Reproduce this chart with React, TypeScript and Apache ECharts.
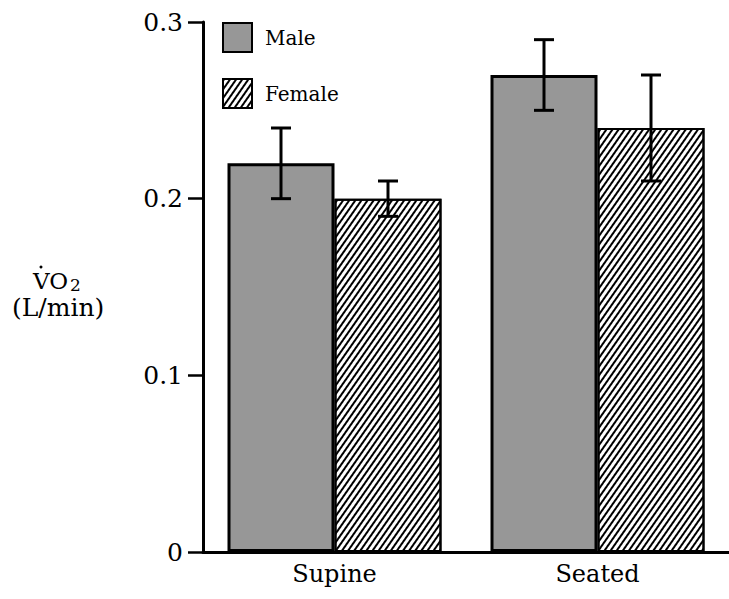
import React, { useEffect, useRef } from "react";
import * as echarts from "echarts";

const categories = ["Supine", "Seated"];
const maleMeans = [0.22, 0.27];
const maleErrors = [0.02, 0.02];
const femaleMeans = [0.2, 0.24];
const femaleErrors = [0.01, 0.03];
const yTicks = [0, 0.1, 0.2, 0.3];

const FONT = "DejaVu Serif";
const BAR_W = 107;

function errData(means: number[], errs: number[]) {
  return means.map((m, i) => [i, m - errs[i], m + errs[i]]);
}

function makeErrSeries(name: string, means: number[], errs: number[], offset: number) {
  return {
    type: "custom",
    name,
    z: 10,
    silent: true,
    data: errData(means, errs),
    encode: { x: 0, y: [1, 2] },
    renderItem: (params: any, api: any) => {
      const idx = api.value(0);
      const lo = api.coord([idx, api.value(1)]);
      const hi = api.coord([idx, api.value(2)]);
      const x = lo[0] + offset;
      const half = 10;
      const style = { stroke: "#000", lineWidth: 3 };
      return {
        type: "group",
        children: [
          { type: "line", shape: { x1: x, y1: lo[1], x2: x, y2: hi[1] }, style },
          { type: "line", shape: { x1: x - half, y1: lo[1], x2: x + half, y2: lo[1] }, style },
          { type: "line", shape: { x1: x - half, y1: hi[1], x2: x + half, y2: hi[1] }, style },
        ],
      };
    },
  };
}

export default function App() {
  const ref = useRef<HTMLDivElement>(null);
  useEffect(() => {
    if (!ref.current) return;
    const chart = echarts.init(ref.current, null, { renderer: "svg" });
    const hatch = {
      symbol: "rect",
      symbolSize: 1,
      dashArrayX: [1, 0],
      dashArrayY: [1.4, 2.8],
      rotation: -Math.PI * 55 / 180,
      color: "#000",
    };
    chart.setOption({
      animation: false,
      backgroundColor: "#fff",
      textStyle: { fontFamily: FONT },
      grid: { left: 203, top: 22, width: 534, height: 530 },
      legend: {
        orient: "vertical",
        left: 222,
        top: 22,
        padding: 0,
        itemWidth: 29,
        itemHeight: 29,
        itemGap: 25,
        icon: "rect",
        textStyle: { fontFamily: FONT, fontSize: 20, color: "#000", padding: [0, 0, 0, 8] },
        data: ["Male", "Female"],
      },
      xAxis: {
        type: "category",
        data: categories,
        axisLine: { lineStyle: { color: "#000", width: 3 } },
        axisTick: { show: false },
        axisLabel: { fontFamily: FONT, fontSize: 24, color: "#000", margin: 10 },
      },
      yAxis: {
        type: "value",
        min: yTicks[0],
        max: yTicks[yTicks.length - 1],
        interval: 0.1,
        axisLine: { show: true, lineStyle: { color: "#000", width: 3 } },
        axisTick: { show: true, inside: false, length: 15, lineStyle: { color: "#000", width: 2.5 } },
        splitLine: { show: false },
        axisLabel: {
          fontFamily: FONT,
          fontSize: 25,
          color: "#000",
          margin: 20,
          formatter: (v: number) => (v === 0 ? "0" : v.toFixed(1)),
        },
      },
      series: [
        {
          type: "bar",
          name: "Male",
          data: maleMeans,
          barWidth: BAR_W,
          barGap: "0%",
          itemStyle: { color: "#979797", borderColor: "#000", borderWidth: 3 },
        },
        {
          type: "bar",
          name: "Female",
          data: femaleMeans,
          barWidth: BAR_W,
          barGap: "0%",
          itemStyle: { color: "#fff", borderColor: "#000", borderWidth: 2, decal: hatch },
        },
        makeErrSeries("MaleErr", maleMeans, maleErrors, -BAR_W / 2),
        makeErrSeries("FemaleErr", femaleMeans, femaleErrors, BAR_W / 2),
      ],
      graphic: [
        {
          type: "text",
          left: 33,
          top: 269,
          style: { text: "VO", fontFamily: FONT, fontSize: 23, fill: "#000" },
        },
        {
          type: "text",
          left: 70,
          top: 276,
          style: { text: "2", fontFamily: FONT, fontSize: 17, fill: "#000" },
        },
        {
          type: "circle",
          shape: { cx: 41, cy: 267, r: 1.5 },
          style: { fill: "#000" },
        },
        {
          type: "text",
          left: 12,
          top: 295,
          style: { text: "(L/min)", fontFamily: FONT, fontSize: 25, fill: "#000" },
        },
      ],
    });
    return () => chart.dispose();
  }, []);
  return (
    <div
      ref={ref}
      style={{ position: "fixed", left: 0, top: 0, width: 729, height: 599 }}
    />
  );
}
